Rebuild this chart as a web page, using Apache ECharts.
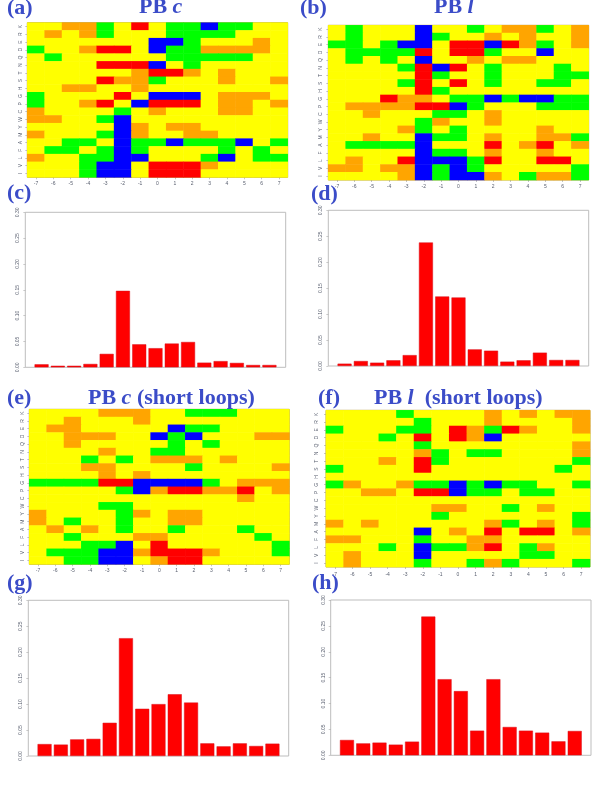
<!DOCTYPE html>
<html><head><meta charset="utf-8">
<style>html,body{margin:0;padding:0;background:#fff}#c{width:600px;height:787px}</style>
<script src="https://cdn.jsdelivr.net/npm/echarts@6/dist/echarts.min.js"></script>
</head><body><div id="c"></div>
<script>
const positions = [-7,-6,-5,-4,-3,-2,-1,0,1,2,3,4,5,6,7];
const residuesTopDown = ['K','R','E','D','Q','N','T','S','H','G','P','C','W','Y','M','A','F','L','V','I'];
// Y yellow, O orange, G green, R red, B blue; rows listed top to bottom
const pbC = ["YYOOGYRYGGBGGYY","YOYOGYYYGGGGYYY","YYYYYYYBBGYYYOY","GYYORRYBGGOOOOY","YGYYYYYYGGGGGYY","YYYYRRRBYGYYYYY","YYYYYYORROYOYYY","YYYYROOGYYYOYYO","YYOOYYOYYYYYYYY","GYYYYRYBBBYOOOY","GYYORYBRRRYOOYO","OYYYYGYOYYYOOYY","OOYYGBYYYYYYYYY","YYYYYBOYOOYYYYY","OYYYGBOYYOOYYYY","YYGGYBGGBGGGBYG","YGGYGBGYYYYGYGY","OYYGGBBYYYGBYGG","YYYGBBYRRROYYYY","YYYGBBYRRRYYYYY"];
const pbL = ["YGYYYBYYGYOOGYO","YGYYYBGYYOYOYYO","GGYGBBYRRBROGYO","YGGGGRYRRGYYBYY","YGYGYBYYOYOOYYY","YYYYGRBRYGYYYGY","YYYYYRGYYGYYYGG","YYYYGRYRYGYYGGY","YYYYYRGYYYYYYYY","YYYROOYGGBGBBGG","YOOOORRBGYYYGGG","YYOYYYGGYOYYYYY","YYYYYGOYYOYYYYY","YYYYOGYGYYYYOYY","YYOYYBGGYOYYOOG","YGGGGBYYYRYORYO","YYYYYBGGYOYYOYY","YOYYRBBBGRYYRRY","OOYOOBGBGYYYYYG","YYYYOBGBBOYGOOG"];
const pbCShort = ["YYYYOOOYYGGGYYY","YYOYYYOYYYYYYYY","YOOYYYYYBGGYYYY","YYOOOYYBGBYYYOO","YYOYYYYYGYGYYYY","YYYYOYYGGYYYYYY","YYYGYGYOOOYOYYY","YYYOOYYYYGYYYYO","YYYYOYOYYYYYYYY","GGGGRRBBBBGYOOO","YYYYYGBORROORYO","YYYYYYYYYYYYOYY","YYYYGGYYYYYYYYY","OYYYYGOYOOYYYYY","OYGYYGYYOOYYYYY","YOYOYGYYGYYYGYY","YYGYYYOOYYYYYGY","YYYGGBYRYYYYYYG","YGGGBBORRROYYYG","YYGGBBYORRYYYYY"];
const pbLShort = ["YYYYGYYYYOYOYOO","YYYYYGYYYOYYYYO","GYYYGGYROGROYYO","YYYGYRYROBYYYYY","YYYYYGYYYYYYYYO","YYYYYOGYGGYYYYO","YYYOYRGYYYYYYYG","GYYYYRYYYYYYYGY","YYYYYYYYYYYYYYY","GOYYOGGBGBGGYYG","YYOOYRRBGGYGGYY","YYYYYYYYYYYYYYY","YYYYYYOOYYGYOYY","YYYYYYGYYYYYYYG","OYOYYYYYYOGYOYG","YYYYYBYOYRYRRYO","OOYYYGYYOOYYYYY","YYYGYBGGORYGOYY","YOYYYBYYYYYGGYY","YOYYYGYYGOGYYYG"];
const barsC = [0.0058,0.003,0.003,0.0065,0.026,0.148,0.0445,0.037,0.046,0.049,0.009,0.012,0.0085,0.0045,0.0045];
const barsL = [0.0045,0.0096,0.0064,0.011,0.021,0.238,0.134,0.132,0.032,0.0295,0.0084,0.011,0.0257,0.0116,0.0116];
const barsCShort = [0.023,0.022,0.032,0.033,0.064,0.227,0.091,0.100,0.119,0.103,0.0244,0.0186,0.0244,0.0193,0.0238];
const barsLShort = [0.0296,0.023,0.0245,0.0206,0.0264,0.268,0.147,0.124,0.0476,0.147,0.0547,0.0476,0.0438,0.027,0.047];
const yTicks = {min:0,max:0.3,interval:0.05};
const levelOrder = 'YOGRB';
const levelColors = ['#ffff00','#ffa500','#00ff00','#ff0000','#0000ff'];

const heatPanels = [
  {rows:pbC,      box:[27.3,22.7,260.4,154.6], xm:4, ym:4},
  {rows:pbL,      box:[328.3,25.3,260.4,154.7], xm:4, ym:5},
  {rows:pbCShort, box:[29.3,409.3,260,155], xm:4, ym:4},
  {rows:pbLShort, box:[326,410.3,264,156.7], xm:5, ym:7}
];
const barPanels = [
  {vals:barsC,      box:[25.3,212.3,260.4,155]},
  {vals:barsL,      box:[328.3,210.3,260.4,155.7]},
  {vals:barsCShort, box:[28.3,600.3,260.4,155.7]},
  {vals:barsLShort, box:[330.7,600,260.3,155.3]}
];
const labels = [
  ['(a)',7,-3],['(b)',300,-3],['(c)',7,182],['(d)',311,183],
  ['(e)',7,387],['(f)',318,387],['(g)',7,572],['(h)',312,572]
];
const heads = [
  ['{b|PB }{i|c}',139,-4],['{b|PB }{i|l}',434,-4],
  ['{b|PB }{i|c}{b| (short loops)}',88,387],['{b|PB }{i|l}{b|  (short loops)}',374,387]
];
const blue = '#3b4cc8', tickText = '#5a6070';
const grids=[],xAxes=[],yAxes=[],series=[];
const boxGrid = (b,color)=>({left:b[0],top:b[1],width:b[2],height:b[3],show:true,borderColor:color,borderWidth:1,backgroundColor:'#fff'});

heatPanels.forEach(p=>{
  const i=grids.length;
  grids.push(boxGrid(p.box,'#b8a24a'));
  xAxes.push({type:'category',gridIndex:i,data:positions.map(String),
    axisLine:{show:false},axisTick:{show:true,length:2,alignWithLabel:true,lineStyle:{color:'#8a8a8a',width:0.5}},
    axisLabel:{fontSize:5,color:tickText,margin:p.xm,interval:0,fontFamily:'Liberation Sans'},splitLine:{show:false}});
  yAxes.push({type:'category',gridIndex:i,data:residuesTopDown.slice().reverse(),
    axisLine:{show:false},axisTick:{show:true,length:2,alignWithLabel:true,lineStyle:{color:'#8a8a8a',width:0.5}},
    axisLabel:{fontSize:5,color:tickText,margin:p.ym,interval:0,rotate:90,fontFamily:'Liberation Sans'},splitLine:{show:false}});
  const data=[];
  p.rows.forEach((r,ri)=>{[...r].forEach((ch,ci)=>{
    const code=levelOrder.indexOf(ch);
    data.push({value:[ci,19-ri,code],itemStyle:{color:levelColors[code],opacity:1}});
  });});
  series.push({type:'heatmap',xAxisIndex:i,yAxisIndex:i,data,progressive:0,
    itemStyle:{borderWidth:0},emphasis:{disabled:true}});
});
barPanels.forEach(p=>{
  const i=grids.length;
  grids.push(boxGrid(p.box,'#bdbdbd'));
  xAxes.push({type:'category',gridIndex:i,boundaryGap:false,data:['',...positions.map(String),''],
    axisLine:{show:false},axisTick:{show:false},axisLabel:{show:false},splitLine:{show:false}});
  yAxes.push({type:'value',gridIndex:i,...yTicks,
    axisLine:{show:false},axisTick:{show:true,length:2,lineStyle:{color:'#9a9a9a',width:0.5}},
    axisLabel:{fontSize:5,color:tickText,margin:5,rotate:90,formatter:v=>v.toFixed(2),fontFamily:'Liberation Sans'},splitLine:{show:false}});
  series.push({type:'bar',xAxisIndex:i,yAxisIndex:i,data:[null,...p.vals,null],barWidth:14,
    itemStyle:{color:'#ff0000',borderColor:'#d8101a',borderWidth:0.5}});
});
const titles=[
  ...labels.map(l=>({text:l[0],left:l[1],top:l[2],padding:0,textStyle:{fontFamily:'Liberation Serif',fontSize:22,fontWeight:'bold',color:blue}})),
  ...heads.map(h=>({text:h[0],left:h[1],top:h[2],padding:0,textStyle:{rich:{
    b:{fontFamily:'Liberation Serif',fontSize:22,fontWeight:'bold',color:blue},
    i:{fontFamily:'Liberation Serif',fontSize:22,fontWeight:'bold',fontStyle:'italic',color:blue}}}}))
];
const chart=echarts.init(document.getElementById('c'),null,{renderer:'canvas'});
chart.setOption({animation:false,backgroundColor:'#fff',title:titles,grid:grids,xAxis:xAxes,yAxis:yAxes,series});
</script></body></html>
